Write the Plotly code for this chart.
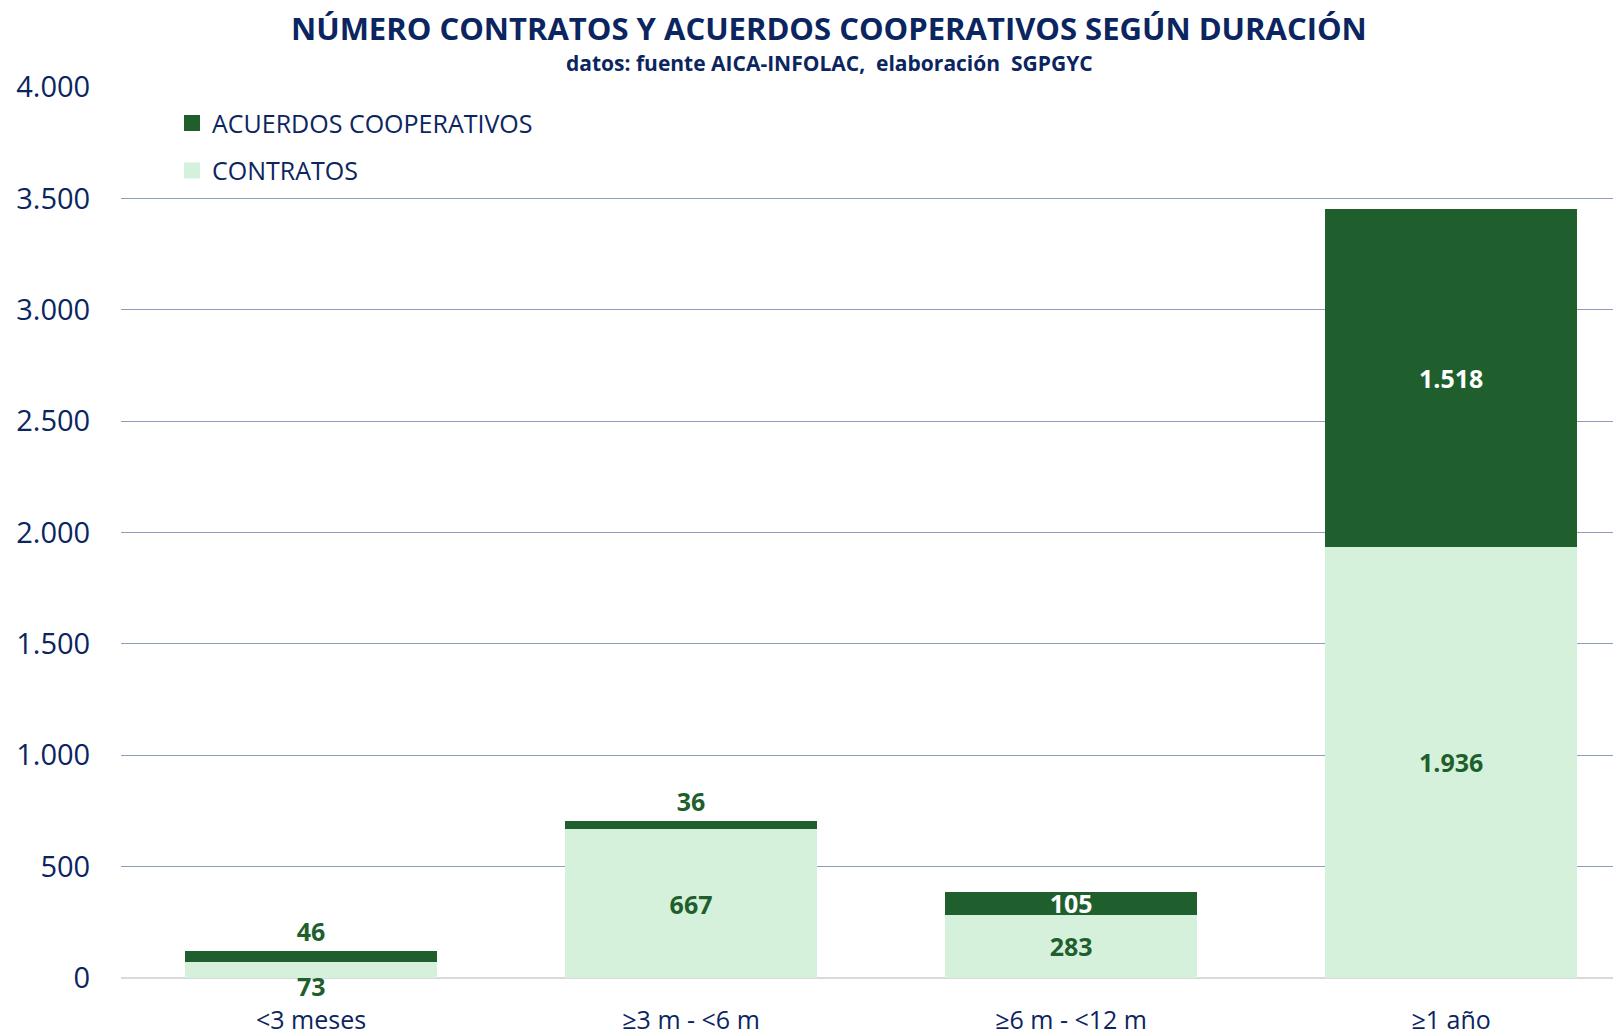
import plotly.graph_objects as go

categories = ["<3 meses", "≥3 m - <6 m", "≥6 m - <12 m", "≥1 año"]
contratos = [73, 667, 283, 1936]
acuerdos = [46, 36, 105, 1518]
y_ticks = [0, 500, 1000, 1500, 2000, 2500, 3000, 3500, 4000]
y_tick_labels = ["0", "500", "1.000", "1.500", "2.000", "2.500", "3.000", "3.500", "4.000"]

title_text = "NÚMERO CONTRATOS Y ACUERDOS COOPERATIVOS SEGÚN DURACIÓN"
subtitle_text = "datos: fuente AICA-INFOLAC,  elaboración  SGPGYC"

NAVY = "#0b2560"
DARK = "#1e5f2d"
LIGHT = "#d5f1dc"
FONT = "Open Sans"


def fmt(v):
    return f"{v:,}".replace(",", ".")


# label of the tiny first contratos bar is placed below the baseline (as in the original)
contratos_text = [""] + [fmt(v) for v in contratos[1:]]

fig = go.Figure()
fig.add_trace(go.Bar(
    x=categories, y=contratos, name="CONTRATOS", showlegend=False,
    marker=dict(color=LIGHT, line=dict(width=0)),
    text=contratos_text, textposition="inside",
    insidetextanchor="middle", textangle=0, constraintext="none",
    textfont=dict(family=FONT, size=25, color=DARK, weight="bold"),
    width=0.665,
))
fig.add_trace(go.Bar(
    x=categories, y=acuerdos, name="ACUERDOS COOPERATIVOS", showlegend=False,
    marker=dict(color=DARK, line=dict(width=0)),
    text=[fmt(v) for v in acuerdos],
    textposition=["outside", "outside", "inside", "inside"],
    insidetextanchor="middle", textangle=0, constraintext="none",
    textfont=dict(family=FONT, size=25, color=[DARK, DARK, "white", "white"], weight="bold"),
    cliponaxis=False,
    width=0.665,
))

# legend entries with square swatches
fig.add_trace(go.Scatter(
    x=[None], y=[None], mode="markers", name="ACUERDOS COOPERATIVOS",
    marker=dict(symbol="square", size=16, color=DARK), legendrank=1, legendgroup="a",
))
fig.add_trace(go.Scatter(
    x=[None], y=[None], mode="markers", name="CONTRATOS",
    marker=dict(symbol="square", size=16, color=LIGHT), legendrank=2, legendgroup="c",
))

fig.add_annotation(
    text=f"<b>{fmt(contratos[0])}</b>", x=categories[0], y=0, xref="x", yref="y",
    yanchor="middle", yshift=-8, showarrow=False,
    font=dict(family=FONT, size=25, color=DARK),
)

fig.add_annotation(
    text=f"<b>{title_text}</b>", xref="paper", yref="paper",
    x=0.472, y=1.066, xanchor="center", yanchor="middle", showarrow=False,
    font=dict(family=FONT, size=31, color=NAVY),
)
fig.add_annotation(
    text=f"<b>{subtitle_text}</b>", xref="paper", yref="paper",
    x=0.472, y=1.027, xanchor="center", yanchor="middle", showarrow=False,
    font=dict(family=FONT, size=21, color=NAVY),
)

fig.update_layout(
    barmode="stack",
    width=1613, height=1028,
    margin=dict(l=113, r=0, t=79, b=56),
    paper_bgcolor="white", plot_bgcolor="white",
    font=dict(family=FONT, color=NAVY),
    legend=dict(
        x=0.034, y=0.985, xanchor="left", yanchor="top",
        traceorder="grouped", tracegroupgap=12,
        font=dict(family=FONT, size=25, color=NAVY),
        bgcolor="rgba(0,0,0,0)",
    ),
    xaxis=dict(
        range=[-0.5, 3.447], showgrid=False, showline=False,
        ticks="outside", ticklen=20, tickcolor="rgba(0,0,0,0)",
        tickfont=dict(family=FONT, size=25, color=NAVY),
    ),
    yaxis=dict(
        range=[0, 4000], tickvals=y_ticks, ticktext=y_tick_labels,
        showgrid=True, gridcolor="#8e9cc0", gridwidth=1,
        zeroline=True, zerolinecolor="#d9d9d9", zerolinewidth=2,
        ticks="outside", ticklen=24, tickcolor="rgba(0,0,0,0)",
        tickfont=dict(family=FONT, size=29, color=NAVY),
    ),
)

fig.write_html("out.html")
